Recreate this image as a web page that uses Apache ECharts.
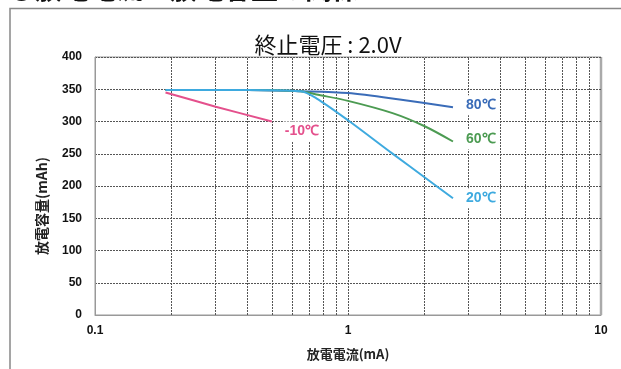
<!DOCTYPE html>
<html><head><meta charset="utf-8">
<script src="https://cdn.jsdelivr.net/npm/echarts@6/dist/echarts.min.js"></script>
<style>html,body{margin:0;padding:0;background:#fff}#c{width:621px;height:369px}</style>
</head><body><div id="c"></div>
<script>
// ---- data ----
const seriesNames = ['80℃', '60℃', '20℃', '-10℃'];
const current80 = [0.19, 0.4, 0.65, 1.0, 1.6, 2.6];
const capacity80 = [349, 349, 347, 344, 334, 322];
const current60 = [0.19, 0.4, 0.65, 0.75, 1.0, 1.5, 2.0, 2.6];
const capacity60 = [349, 349, 347, 342, 332, 313, 293, 269];
const current20 = [0.19, 0.4, 0.65, 0.75, 1.0, 1.49, 2.0, 2.6];
const capacity20 = [349, 349, 347, 336, 302, 251, 214, 181];
const currentM10 = [0.19, 0.3, 0.5];
const capacityM10 = [345, 323, 300];
const xGridValues = [0.2,0.3,0.4,0.5,0.6,0.7,0.8,0.9,1,2,3,4,5,6,7,8,9];
const colors = ['#3a6cb8', '#4c9b52', '#3eaadf', '#e4508c'];

const zip = (xs, ys) => xs.map((x, i) => [x, ys[i]]);
const FONT_NUM = '"Liberation Sans", Arial, sans-serif';
const FONT_JP = '"Noto Sans CJK JP", sans-serif';

const chart = echarts.init(document.getElementById('c'));
const datasets = [zip(current80, capacity80), zip(current60, capacity60), zip(current20, capacity20), zip(currentM10, capacityM10)];
const labelOffsets = [[3, -2], [3, -2], [3, 0], [3, 10]];

const series = datasets.map((d, i) => ({
  name: seriesNames[i], type: 'line', data: d, smooth: 0.3, showSymbol: false, z: 5,
  lineStyle: { color: colors[i], width: 2 }, itemStyle: { color: colors[i] },
  endLabel: { show: true, formatter: seriesNames[i], color: colors[i], fontFamily: FONT_NUM,
    fontWeight: 'bold', fontSize: 14, offset: labelOffsets[i], backgroundColor: '#fff', padding: [3, 2] },
  animation: false
}));
series.push({
  type: 'line', data: [], z: 1, silent: true, animation: false,
  markLine: { symbol: 'none', silent: true, animation: false, label: { show: false },
    lineStyle: { color: '#555', type: [2, 1], width: 1 },
    data: xGridValues.map(v => ({ xAxis: v })) }
});

chart.setOption({
  animation: false,
  grid: { left: 95, right: 20, top: 57, bottom: 54, show: true, borderColor: '#999', borderWidth: 1 },
  xAxis: { type: 'log', logBase: 10, min: 0.1, max: 10,
    axisLine: { show: true, lineStyle: { color: '#999' } }, axisTick: { show: false },
    splitLine: { show: false }, minorSplitLine: { show: false },
    axisLabel: { color: '#111', fontFamily: FONT_NUM, fontWeight: 'bold', fontSize: 12, margin: 10 } },
  yAxis: { type: 'value', min: 0, max: 400, interval: 50,
    axisLine: { show: true, lineStyle: { color: '#999' } }, axisTick: { show: false },
    splitLine: { show: true, lineStyle: { color: '#555', type: [2, 1], width: 1 } },
    axisLabel: { color: '#111', fontFamily: FONT_NUM, fontWeight: 'bold', fontSize: 12, margin: 13 } },
  series: series,
  graphic: [
    { type: 'polyline', silent: true, shape: { points: [[10, 369], [10, 8.5], [621, 8.5]] },
      style: { stroke: '#888', lineWidth: 1.5, fill: null } },
    { type: 'line', silent: true, shape: { x1: 601, y1: 57, x2: 601, y2: 315 },
      style: { stroke: '#aaa', lineWidth: 2.5 } },
    { type: 'text', silent: true, style: { x: 8, y: 2, text: '●放電電流と放電容量の関係',
      fontFamily: FONT_JP, fontWeight: 'bold', fontSize: 27, fill: '#111', verticalAlign: 'bottom' } },
    { type: 'text', silent: true, style: { x: 328, y: 45, text: '終止電圧 : 2.0V', align: 'center', verticalAlign: 'middle',
      fontFamily: FONT_JP, fontSize: 22, fill: '#111' } },
    { type: 'text', silent: true, style: { x: 348, y: 354, text: '放電電流(mA)', align: 'center', verticalAlign: 'middle',
      fontFamily: FONT_JP, fontWeight: 'bold', fontSize: 13, fill: '#222' } },
    { type: 'text', silent: true, x: 42, y: 206, rotation: Math.PI / 2,
      style: { x: 0, y: 0, text: '放電容量(mAh)', align: 'center', verticalAlign: 'middle',
      fontFamily: FONT_JP, fontWeight: 'bold', fontSize: 14, fill: '#222' } }
  ]
});
</script></body></html>
